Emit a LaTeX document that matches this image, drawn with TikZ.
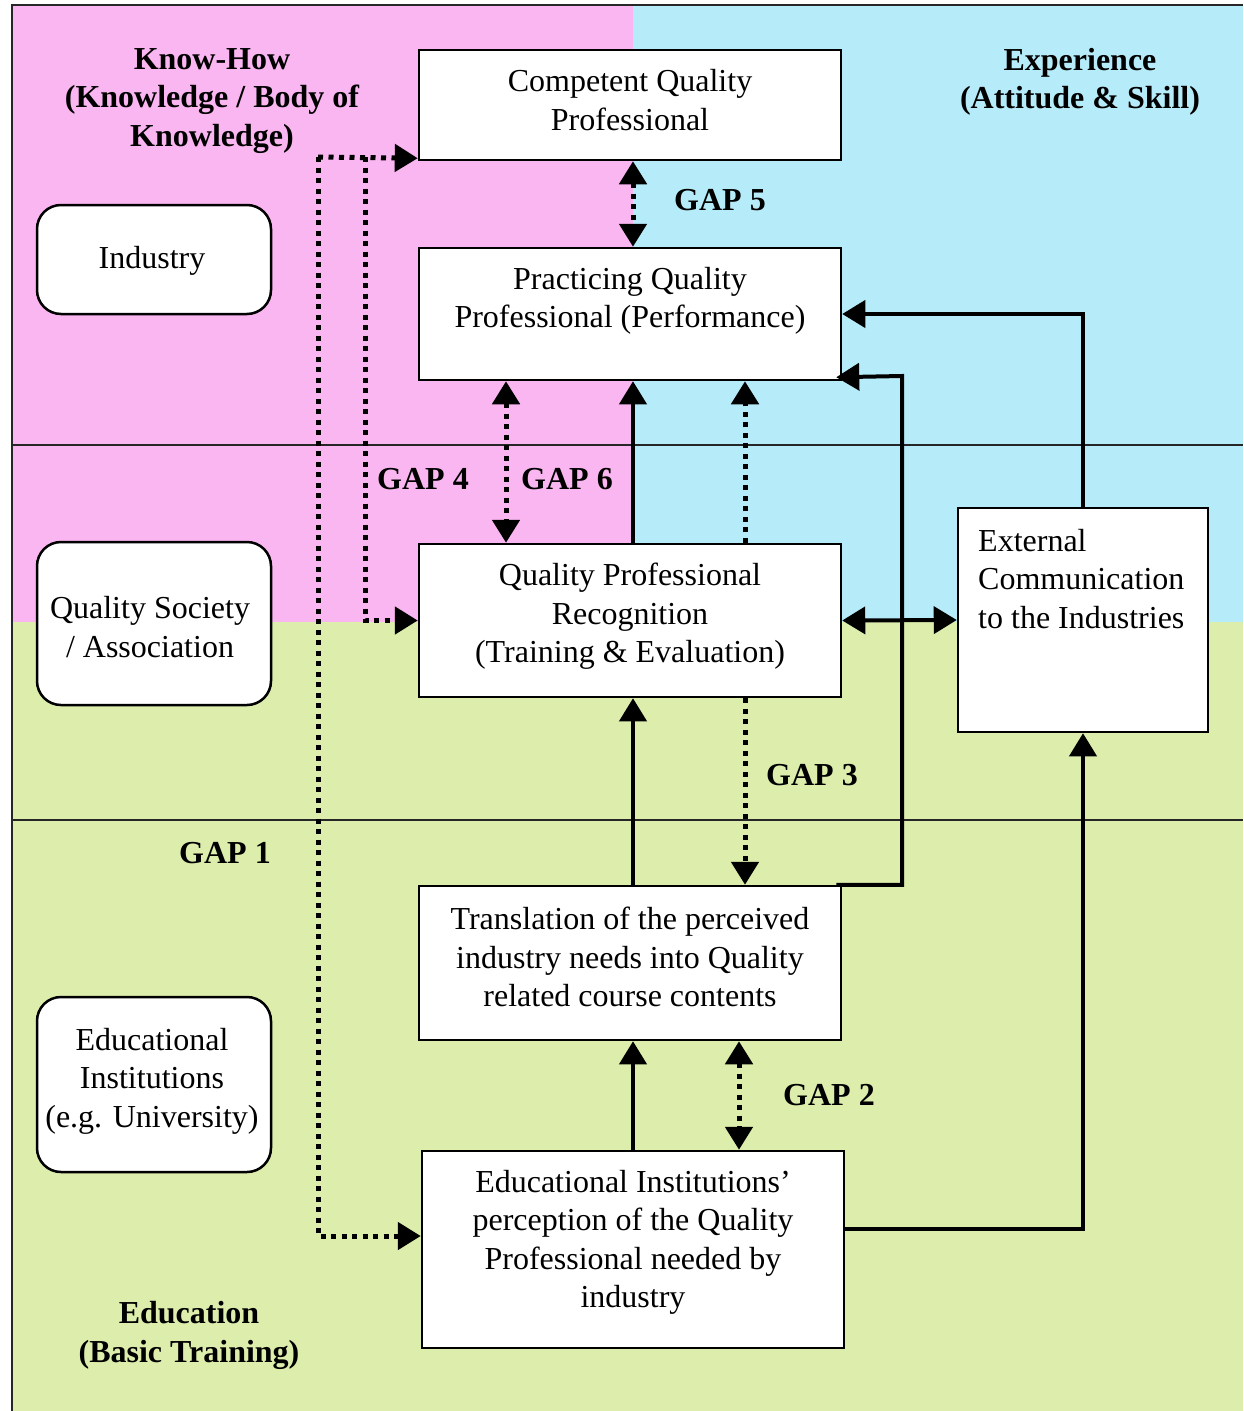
\documentclass[tikz,border=0pt]{standalone}
\usepackage{fontspec}
\setmainfont{Liberation Serif}
\usetikzlibrary{arrows.meta}
\definecolor{pinkbg}{RGB}{250,182,240}
\definecolor{cyanbg}{RGB}{182,236,250}
\definecolor{greenbg}{RGB}{220,237,172}
\begin{document}
\begin{tikzpicture}[x=1pt,y=-1pt,
  box/.style={draw, fill=white, line width=2.5pt, inner sep=0pt},
  rbox/.style={box, rounded corners=24pt},
  txt/.style={inner sep=0pt, align=center, font=\fontsize{32}{38.5}\selectfont},
  btxt/.style={inner sep=0pt, align=center, font=\fontsize{32}{38.5}\selectfont\bfseries},
  sarrow/.style={line width=4pt, -{Triangle[length=23pt,width=27pt]}},
  sdouble/.style={line width=4pt, {Triangle[length=23pt,width=27pt]}-{Triangle[length=23pt,width=27pt]}},
  darrow/.style={line width=5pt, dash pattern=on 5pt off 5.5pt, -{Triangle[length=23pt,width=27pt]}},
  ddouble/.style={line width=5pt, dash pattern=on 5pt off 5.5pt, {Triangle[length=23pt,width=27pt]}-{Triangle[length=23pt,width=27pt]}},
  sepline/.style={line width=2.2pt, draw=black!85}
]
\useasboundingbox (0,0) rectangle (1243,1411);
% backgrounds
\fill[pinkbg] (12,5) rectangle (633,622);
\fill[cyanbg] (633,5) rectangle (1243,622);
\fill[greenbg] (12,622) rectangle (1243,1411);
\draw[sepline] (12,1411) -- (12,5) -- (1243,5);
\draw[sepline] (12,445) -- (1243,445);
\draw[sepline] (12,820) -- (1243,820);
% boxes
\node[box, minimum width=422pt, minimum height=110pt] (cqp) at (630,105) {};
\node[box, minimum width=422pt, minimum height=132pt] (pqp) at (630,314) {};
\node[box, minimum width=422pt, minimum height=153pt] (qpr) at (630,620.5) {};
\node[box, minimum width=250pt, minimum height=224pt] (ext) at (1083,620) {};
\node[box, minimum width=422pt, minimum height=154pt] (tr) at (630,963) {};
\node[box, minimum width=422pt, minimum height=197pt] (eip) at (633,1249.5) {};
\node[rbox, minimum width=234pt, minimum height=109pt] (ind) at (154,259.5) {};
\node[rbox, minimum width=234pt, minimum height=163pt] (qs) at (154,623.5) {};
\node[rbox, minimum width=234pt, minimum height=175pt] (ei) at (154,1084.5) {};
% box texts
\node[txt] (tcqp) at (630,100) {Competent Quality\\Professional};
\node[txt] (tpqp) at (630,301) {Practicing Quality\\Professional (Performance)};
\node[txt] (tqpr) at (630,616.5) {Quality Professional\\Recognition\\(Training \& Evaluation)};
\node[txt, align=left, anchor=west] (text) at (978,579) {External\\Communication\\to the Industries};
\node[txt] (ttr) at (630,957) {Translation of the perceived\\industry needs into Quality\\related course contents};
\node[txt] (teip) at (633,1242.5) {Educational Institutions’\\perception of the Quality\\Professional needed by\\industry};
\node[txt] (tind) at (152,260.5) {Industry};
\node[txt] (tqs) at (150,627) {Quality Society\\/ Association};
\node[txt] (tei) at (152,1081) {Educational\\Institutions\\(e.g. University)};
% region labels
\node[btxt] (lkh) at (212,101) {Know-How\\(Knowledge / Body of\\Knowledge)};
\node[btxt] (lexp) at (1080,82) {Experience\\(Attitude \& Skill)};
\node[btxt] (ledu) at (189,1335.5) {Education\\(Basic Training)};
% gap labels
\node[btxt] (g5) at (720,200) {GAP 5};
\node[btxt] (g4) at (423,479) {GAP 4};
\node[btxt] (g6) at (567,479) {GAP 6};
\node[btxt] (g3) at (812,775) {GAP 3};
\node[btxt] (g1) at (225,853) {GAP 1};
\node[btxt] (g2) at (829,1095) {GAP 2};
% connectors
\draw[ddouble] ([xshift=3pt]cqp.south) -- ([xshift=3pt]pqp.north);
\draw[ddouble] ([xshift=-124pt]pqp.south) -- ([xshift=-124pt]qpr.north);
\draw[sarrow] ([xshift=3pt]qpr.north) -- ([xshift=3pt]pqp.south);
\draw[darrow] ([xshift=115pt]qpr.north) -- ([xshift=115pt]pqp.south);
\draw[sarrow] (ext.north) |- (pqp.east);
\coordinate (rail) at (902,376);
\draw[sarrow] ([xshift=-6pt]tr.north east) -| (rail) -- ([xshift=-6pt,yshift=4pt]pqp.south east);
\draw[sdouble] (qpr.east) -- (ext.west);
\draw[sarrow] ([xshift=3pt]tr.north) -- ([xshift=3pt]qpr.south);
\draw[darrow] ([xshift=115pt]qpr.south) -- ([xshift=115pt]tr.north);
\draw[sarrow] (eip.north) -- ([xshift=3pt]tr.south);
\draw[ddouble] ([xshift=109pt]tr.south) -- ([xshift=106pt]eip.north);
\draw[sarrow] ([yshift=21pt]eip.east) -| (ext.south);
\coordinate (dl) at (318,157);
\coordinate (dm) at (365,157);
\draw[darrow] (dl) -- ([yshift=3pt]cqp.south west);
\draw[darrow] (dl) |- ([yshift=13.5pt]eip.west);
\draw[darrow] (dm) |- (qpr.west);
\end{tikzpicture}
\end{document}
